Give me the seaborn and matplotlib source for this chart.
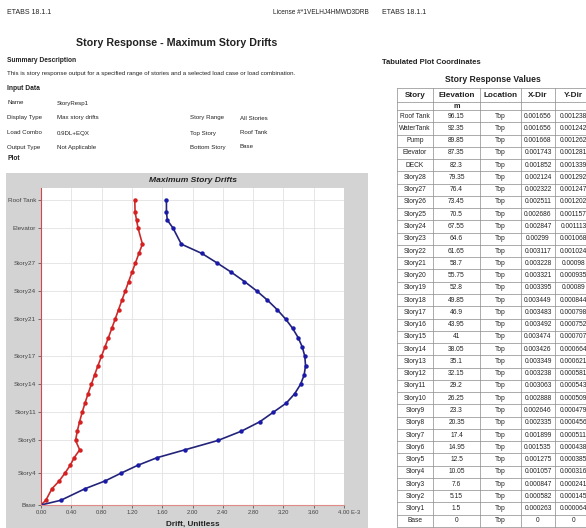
import numpy as np
import pandas as pd
import matplotlib.pyplot as plt
import matplotlib.transforms as mtrans
import seaborn as sns
from matplotlib.patches import Rectangle

# tabulated story response values (ETABS export)
stories = ["Roof Tank", "WaterTank", "Pump", "Elevator", "DECK",
           "Story28", "Story27", "Story26", "Story25", "Story24", "Story23",
           "Story22", "Story21", "Story20", "Story19", "Story18", "Story17",
           "Story16", "Story15", "Story14", "Story13", "Story12", "Story11",
           "Story10", "Story9", "Story8", "Story7", "Story6", "Story5",
           "Story4", "Story3", "Story2", "Story1", "Base"]
elevation = [96.15, 92.35, 89.85, 87.35, 82.3, 79.35, 76.4, 73.45, 70.5,
             67.55, 64.6, 61.65, 58.7, 55.75, 52.8, 49.85, 46.9, 43.95, 41,
             38.05, 35.1, 32.15, 29.2, 26.25, 23.3, 20.35, 17.4, 14.95, 12.5,
             10.05, 7.6, 5.15, 1.5, 0]
x_dir = [0.001656, 0.001656, 0.001668, 0.001743, 0.001852, 0.002124, 0.002322,
         0.002511, 0.002686, 0.002847, 0.00299, 0.003117, 0.003228, 0.003321,
         0.003395, 0.003449, 0.003483, 0.003492, 0.003474, 0.003426, 0.003349,
         0.003238, 0.003063, 0.002888, 0.002646, 0.002335, 0.001899, 0.001535,
         0.001275, 0.001057, 0.000847, 0.000582, 0.000263, 0]
y_dir = [0.001238, 0.001242, 0.001262, 0.001281, 0.001339, 0.001292, 0.001247,
         0.001202, 0.001157, 0.001113, 0.001068, 0.001024, 0.00098, 0.000935,
         0.00089, 0.000844, 0.000798, 0.000752, 0.000707, 0.000664, 0.000621,
         0.000581, 0.000543, 0.000509, 0.000479, 0.000456, 0.000511, 0.000438,
         0.000385, 0.000316, 0.000241, 0.000145, 0.000064, 0]

tick_stories = ["Roof Tank", "Elevator", "Story27", "Story24", "Story21",
                "Story17", "Story14", "Story11", "Story8", "Story4", "Base"]
x_ticks = [0, 0.4, 0.8, 1.2, 1.6, 2.0, 2.4, 2.8, 3.2, 3.6, 4.0]
x_tick_labels = ["0.00", "0.40", "0.80", "1.20", "1.60", "2.00", "2.40",
                 "2.80", "3.20", "3.60", "4.00 E-3"]

df = pd.DataFrame({"story": stories, "elev": elevation,
                   "x": np.array(x_dir) * 1000, "y": np.array(y_dir) * 1000})

sns.set_style("white")
plt.rcParams["font.family"] = ["Liberation Sans", "DejaVu Sans"]

W, H = 586, 528
fig = plt.figure(figsize=(W / 100, H / 100), dpi=100)

# page layer in pixel coordinates
pg = fig.add_axes([0, 0, 1, 1], zorder=0)
pg.set_xlim(0, W)
pg.set_ylim(H, 0)
pg.axis("off")

txt = "#222222"
small = 4.4
pg.text(7, 13, "ETABS 18.1.1", fontsize=5.0, color=txt, va="center")
pg.text(273, 13, "License #*1VELHJ4HMWD3DRB", fontsize=4.7, color=txt, va="center")
pg.text(177, 43, "Story Response - Maximum Story Drifts", fontsize=7.7,
        fontweight="bold", color=txt, ha="center", va="center")
pg.text(7, 61, "Summary Description", fontsize=4.8, fontweight="bold", color=txt, va="center")
pg.text(7, 74, "This is story response output for a specified range of stories and a "
        "selected load case or load combination.", fontsize=small, color=txt, va="center")
pg.text(7, 88, "Input Data", fontsize=4.8, fontweight="bold", color=txt, va="center")
rows_l = [("Name", "StoryResp1", 103), ("Display Type", "Max story drifts", 118),
          ("Load Combo", "0.9DL+EQX", 133), ("Output Type", "Not Applicable", 147)]
for a, b, yy in rows_l:
    pg.text(7, yy, a, fontsize=small, color=txt, va="center")
    pg.text(57, yy, b, fontsize=small, color=txt, va="center")
rows_r = [("Story Range", "All Stories", 118), ("Top Story", "Roof Tank", 133),
          ("Bottom Story", "Base", 147)]
for a, b, yy in rows_r:
    pg.text(190, yy, a, fontsize=small, color=txt, va="center")
    pg.text(240, yy, b, fontsize=small, color=txt, va="center")
pg.text(7, 159, "Plot", fontsize=4.8, fontweight="bold", color=txt, va="center")

# gray chart panel
pg.add_patch(Rectangle((6, 173), 362, 360, facecolor="#d3d3d3", edgecolor="none"))
pg.text(193, 180, "Maximum Story Drifts", fontsize=6.1, fontweight="bold",
        fontstyle="italic", color=txt, ha="center", va="center")
pg.text(193, 524, "Drift, Unitless", fontsize=5.9, fontweight="bold",
        color=txt, ha="center", va="center")

# right page: table
pg.text(382, 13, "ETABS 18.1.1", fontsize=5.0, color=txt, va="center")
pg.text(382, 62, "Tabulated Plot Coordinates", fontsize=5.5, fontweight="bold",
        color=txt, va="center")
pg.text(493, 79, "Story Response Values", fontsize=6.2, fontweight="bold",
        color=txt, ha="center", va="center")

col_edges = [397, 433, 480, 521, 555, 592]
headers = ["Story", "Elevation", "Location", "X-Dir", "Y-Dir"]
units = ["", "m", "", "", ""]
row_top = 110
row_h = (527 - row_top) / len(stories)
line_c = "#8a8a8a"


def fmt(v):
    return np.format_float_positional(v, trim="-")


centers = [(col_edges[i] + col_edges[i + 1]) / 2 for i in range(5)]
for i, h in enumerate(headers):
    pg.text(centers[i], 95.5, h, fontsize=5.9, fontweight="bold", color=txt,
            ha="center", va="center")
    pg.text(centers[i], 106, units[i], fontsize=5.2, fontweight="bold",
            color=txt, ha="center", va="center")
for r in range(len(stories)):
    yy = row_top + (r + 0.5) * row_h
    vals = [stories[r], fmt(elevation[r]), "Top", fmt(x_dir[r]), fmt(y_dir[r])]
    for i, v in enumerate(vals):
        pg.text(centers[i], yy, v, fontsize=4.8, color=txt, ha="center",
                va="center", clip_on=True)
h_lines = [88, 102, row_top] + [row_top + (r + 1) * row_h for r in range(len(stories))]
for yy in h_lines:
    pg.plot([col_edges[0], col_edges[-1]], [yy, yy], color=line_c, lw=0.5)
for xx in col_edges:
    pg.plot([xx, xx], [88, row_top + len(stories) * row_h], color=line_c, lw=0.5)

# drift plot
ax = fig.add_axes([41 / W, (H - 505) / H, 303 / W, 317 / H], zorder=1)
ax.set_facecolor("white")
sns.lineplot(data=df, x="y", y="elev", sort=False, estimator=None, ax=ax,
             color="#cc2b2b", lw=1.2, marker="o", markersize=3.2,
             markeredgewidth=0, markerfacecolor="#d42020")
sns.lineplot(data=df, x="x", y="elev", sort=False, estimator=None, ax=ax,
             color="#23237a", lw=1.2, marker="o", markersize=3.2,
             markeredgewidth=0, markerfacecolor="#1a1aa8")
ax.set_xlim(0, 4.0)
ax.set_ylim(0, 100)
ax.set_xticks(x_ticks)
ax.set_xticklabels(x_tick_labels)
y_pos = [elevation[stories.index(s)] for s in tick_stories]
ax.set_yticks(y_pos)
ax.set_yticklabels(tick_stories)
ax.set_xlabel("")
ax.set_ylabel("")
ax.grid(True, color="#e2e2e2", lw=0.6)
ax.set_axisbelow(True)
for s in ["top", "right"]:
    ax.spines[s].set_visible(False)
ax.spines["left"].set_color("#d04a4a")
ax.spines["bottom"].set_color("#e08a8a")
ax.spines["left"].set_linewidth(0.8)
ax.spines["bottom"].set_linewidth(0.8)
ax.tick_params(axis="both", labelsize=4.2, colors="#444444", length=2,
               width=0.5, pad=1.5, left=True, bottom=True)
ax.tick_params(axis="y", labelsize=4.6)
lab = ax.get_xticklabels()[-1]
lab.set_horizontalalignment("left")
lab.set_transform(lab.get_transform() +
                  mtrans.ScaledTranslation(-6 / 100, 0, fig.dpi_scale_trans))

fig.savefig("out.png", dpi=100, facecolor="white")
